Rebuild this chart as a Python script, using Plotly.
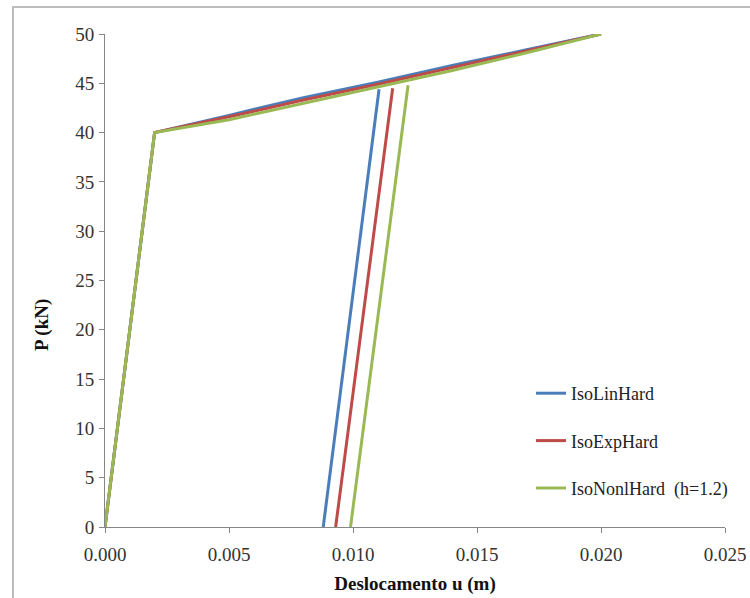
import plotly.graph_objects as go

# ---- data ----
series_names = ["IsoLinHard", "IsoExpHard", "IsoNonlHard  (h=1.2)"]
series_colors = ["#4a7ebb", "#be4b48", "#98b954"]

load_x = [0.0, 0.002, 0.005, 0.008, 0.011, 0.014, 0.017, 0.020]
load_lin = [0.0, 40.0, 41.75, 43.55, 45.1, 46.8, 48.4, 50.0]
load_exp = [0.0, 40.0, 41.6, 43.3, 44.9, 46.6, 48.3, 50.0]
load_nonl = [0.0, 40.0, 41.3, 42.95, 44.6, 46.3, 48.1, 50.0]

unload_x_lin = [0.01105, 0.00880]
unload_x_exp = [0.01160, 0.00930]
unload_x_nonl = [0.01222, 0.00990]
unload_p_lin = [44.4, 0.0]
unload_p_exp = [44.5, 0.0]
unload_p_nonl = [44.8, 0.0]

x_ticks = [0.0, 0.005, 0.010, 0.015, 0.020, 0.025]
x_tick_labels = ["0.000", "0.005", "0.010", "0.015", "0.020", "0.025"]
y_ticks = [0, 5, 10, 15, 20, 25, 30, 35, 40, 45, 50]
y_title = "P (kN)"
x_title = "Deslocamento u (m)"

loads = [load_lin, load_exp, load_nonl]
unload_xs = [unload_x_lin, unload_x_exp, unload_x_nonl]
unload_ps = [unload_p_lin, unload_p_exp, unload_p_nonl]

fig = go.Figure()
for i in range(3):
    xs = list(load_x) + [None] + list(unload_xs[i])
    ys = list(loads[i]) + [None] + list(unload_ps[i])
    fig.add_trace(go.Scatter(
        x=xs, y=ys, mode="lines", name=series_names[i],
        line=dict(color=series_colors[i], width=3),
        connectgaps=False, legendgroup=f"g{i}",
    ))

W, H = 750, 598
ml, mr, mt, mb = 105, 25, 34, 71
pw, ph = W - ml - mr, H - mt - mb

def px_x(p):
    return (p - ml) / pw

def px_y(p):
    return (H - mb - p) / ph

axis_col = "#868686"
fig.update_layout(
    width=W, height=H,
    margin=dict(l=ml, r=mr, t=mt, b=mb),
    paper_bgcolor="white", plot_bgcolor="white",
    showlegend=True,
    legend=dict(
        x=px_x(531), y=px_y(375), xanchor="left", yanchor="top",
        font=dict(family="Liberation Serif", size=18, color="#222"),
        tracegroupgap=21, bgcolor="rgba(0,0,0,0)",
        itemwidth=30,
    ),
    xaxis=dict(
        range=[0, 0.025], tickvals=x_ticks, ticktext=x_tick_labels,
        automargin=False,
        showgrid=False, zeroline=False, showline=True, linecolor=axis_col,
        linewidth=1, ticks="outside", ticklen=5, tickcolor=axis_col,
        ticklabelstandoff=5,
        tickfont=dict(family="Liberation Serif", size=19, color="#333"),
        title=dict(text="<b>" + x_title + "</b>", standoff=12,
                   font=dict(family="Liberation Serif", size=19, color="#111")),
    ),
    yaxis=dict(
        range=[0, 50], tickvals=y_ticks,
        automargin=False,
        showgrid=False, zeroline=False, showline=True, linecolor=axis_col,
        linewidth=1, ticks="outside", ticklen=5, tickcolor=axis_col,
        ticklabelstandoff=1,
        tickfont=dict(family="Liberation Serif", size=19, color="#333"),
    ),
)

# y-axis title (placed like the original, slightly below centre)
fig.add_annotation(
    text="<b>" + y_title + "</b>", textangle=-90, showarrow=False,
    xref="paper", yref="paper", x=px_x(42), y=px_y(325),
    xanchor="center", yanchor="middle",
    font=dict(family="Liberation Serif", size=19, color="#111"),
)

# outer chart border (light gray), extending beyond the right/bottom edges
fig.add_shape(type="rect", xref="paper", yref="paper",
              x0=px_x(13), x1=px_x(770), y0=px_y(620), y1=px_y(7),
              line=dict(color="#bdbdbd", width=2), layer="below")

fig.write_html(
    "out.html",
    config={"displayModeBar": False},
    post_script="document.body.style.margin='0';document.body.style.padding='0';",
)
